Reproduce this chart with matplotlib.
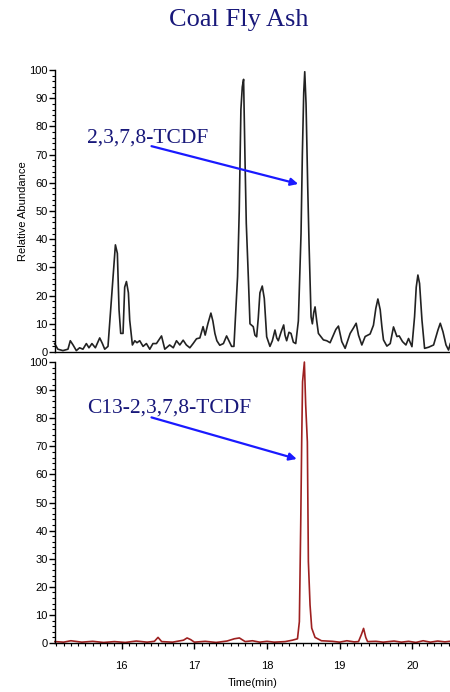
import numpy as np
import matplotlib.pyplot as plt
from matplotlib.ticker import MultipleLocator

# top trace (native 2,3,7,8-TCDF channel): time (min), relative abundance
t_top = [15.076, 15.121, 15.19, 15.26, 15.292, 15.33, 15.375, 15.42, 15.466, 15.513,
         15.549, 15.59, 15.637, 15.697, 15.734, 15.766, 15.811, 15.848, 15.88, 15.913,
         15.94, 15.963, 15.986, 16.018, 16.041, 16.065, 16.092, 16.11, 16.147, 16.18,
         16.21, 16.248, 16.294, 16.34, 16.386, 16.43, 16.478, 16.548, 16.593, 16.66,
         16.71, 16.754, 16.8, 16.846, 16.89, 16.938, 16.983, 17.03, 17.076, 17.12,
         17.149, 17.186, 17.228, 17.255, 17.283, 17.31, 17.35, 17.4, 17.444, 17.476,
         17.513, 17.545, 17.595, 17.618, 17.641, 17.66, 17.678, 17.697, 17.715, 17.743,
         17.766, 17.811, 17.834, 17.858, 17.88, 17.903, 17.935, 17.963, 17.98, 17.996,
         18.041, 18.074, 18.11, 18.134, 18.156, 18.193, 18.23, 18.248, 18.271, 18.303,
         18.331, 18.363, 18.396, 18.432, 18.469, 18.487, 18.506, 18.52, 18.538, 18.561,
         18.579, 18.607, 18.625, 18.644, 18.662, 18.685, 18.708, 18.777, 18.823, 18.869,
         18.915, 18.948, 18.984, 19.03, 19.076, 19.145, 19.19, 19.228, 19.26, 19.306,
         19.352, 19.42, 19.466, 19.499, 19.527, 19.559, 19.582, 19.604, 19.651, 19.697,
         19.742, 19.789, 19.821, 19.866, 19.913, 19.949, 19.996, 20.032, 20.055, 20.078,
         20.101, 20.134, 20.17, 20.225, 20.294, 20.354, 20.386, 20.423, 20.465, 20.5,
         20.524]
i_top = [3, 1, 0.5, 1, 4, 2.5, 0.5, 1.5, 1, 3,
         1.5, 3, 1.5, 5, 3, 1, 2, 15, 26.7, 38,
         35, 15, 6.6, 6.6, 23, 25, 21, 11.3, 2.5, 4,
         3.3, 4, 2, 3, 1, 3, 3, 5.7, 1, 2.5,
         1.5, 4, 2.5, 4.2, 2.5, 1.5, 3, 4.7, 5, 9,
         6, 10, 13.8, 11, 6.6, 4, 2.4, 3, 5.7, 4,
         2, 2, 26.7, 50, 86, 94, 96.7, 69, 45.7, 26.7,
         10, 9, 6, 5.4, 12, 21, 23.4, 19, 12, 5.4,
         2, 4, 7.8, 5, 4, 7, 9.6, 6, 4, 7,
         6.6, 3.5, 3, 11, 42, 70, 92, 99.4, 88, 58.6,
         38.6, 12.5, 10, 14, 16, 11, 6.6, 4.3, 4, 3.3,
         6, 8, 9.2, 3.7, 1.3, 6.6, 8.5, 10.2, 6, 2.5,
         5.5, 6.4, 9.5, 15.5, 18.8, 15, 9, 4.3, 2.1, 3,
         8.9, 5.5, 5.7, 3.7, 2.5, 4.8, 1.9, 12.5, 23, 27.3,
         24.3, 11.3, 1.3, 1.7, 2.5, 7.8, 10.2, 7.2, 2.5, 0.7,
         3]

# bottom trace (C13 labelled standard)
t_bot = [15.08, 15.2, 15.3, 15.45, 15.6, 15.75, 15.9, 16.05, 16.2, 16.35,
         16.45, 16.5, 16.55, 16.7, 16.85, 16.9, 16.95, 17.0, 17.15, 17.3,
         17.45, 17.55, 17.62, 17.7, 17.8, 17.9, 18.0, 18.1, 18.25, 18.35,
         18.42, 18.446, 18.465, 18.478, 18.49, 18.515, 18.533, 18.556, 18.57, 18.593,
         18.616, 18.662, 18.75, 18.9, 19.0, 19.1, 19.2, 19.26, 19.3, 19.33,
         19.36, 19.385, 19.5, 19.6, 19.75, 19.85, 19.95, 20.05, 20.15, 20.25,
         20.35, 20.45, 20.52]
i_bot = [0.5, 0.3, 0.8, 0.3, 0.6, 0.2, 0.5, 0.2, 0.7, 0.3,
         0.6, 2.0, 0.5, 0.3, 1.0, 1.8, 1.2, 0.3, 0.6, 0.2,
         0.7, 1.5, 1.8, 0.5, 0.8, 0.3, 0.6, 0.3, 0.5, 1.0,
         1.5, 7.6, 43, 71.6, 93, 100, 84.7, 71.6, 29, 13.5,
         5.3, 2, 0.8, 0.6, 0.3, 0.8, 0.4, 0.5, 3, 5.2,
         2, 0.5, 0.6, 0.3, 0.7, 0.3, 0.6, 0.2, 0.8, 0.3,
         0.7, 0.4, 0.6]

navy = "#18187a"
arrow_blue = "#1a1aff"

fig = plt.figure(figsize=(4.5, 6.92), dpi=100)
ax1 = fig.add_axes([0.122, 0.4913, 0.878, 0.4075])
ax2 = fig.add_axes([0.122, 0.0708, 0.878, 0.406])

ax1.plot(t_top, i_top, color="#222222", lw=1.2, clip_on=False)
ax2.plot(t_bot, i_bot, color="#9e2020", lw=1.2, clip_on=False)

for ax in (ax1, ax2):
    ax.set_xlim(15.08, 20.52)
    ax.set_ylim(0, 100)
    ax.spines["top"].set_visible(False)
    ax.spines["right"].set_visible(False)
    ax.spines["left"].set_linewidth(1.0)
    ax.spines["bottom"].set_linewidth(1.0)
    ax.yaxis.set_major_locator(MultipleLocator(10))
    ax.yaxis.set_minor_locator(MultipleLocator(2))
    ax.tick_params(axis="y", which="major", length=4, width=1, pad=1, labelsize=8)
    ax.tick_params(axis="y", which="minor", length=2.5, width=0.8)
    for lab in ax.get_yticklabels():
        lab.set_family("Liberation Sans")

ax1.set_xticks([])
ax1.set_ylabel("Relative Abundance", fontsize=8, family="Liberation Sans", labelpad=1)

ax2.xaxis.set_major_locator(MultipleLocator(1))
ax2.xaxis.set_minor_locator(MultipleLocator(0.1))
ax2.tick_params(axis="x", which="major", length=4, width=1, pad=9, labelsize=8)
ax2.tick_params(axis="x", which="minor", length=2.5, width=0.8)
for lab in ax2.get_xticklabels():
    lab.set_family("Liberation Sans")
ax2.set_xlabel("Time(min)", fontsize=8, family="Liberation Sans", labelpad=5)

fig.text(0.531, 0.971, "Coal Fly Ash", ha="center", va="center",
         fontsize=19, family="Liberation Serif", color=navy)

ax1.text(15.52, 76, "2,3,7,8-TCDF", fontsize=15.5, family="Liberation Serif",
         color=navy, va="center", ha="left")
ax1.annotate("", xy=(18.43, 59.6), xytext=(16.41, 73),
             arrowprops=dict(arrowstyle="-|>", color=arrow_blue, lw=1.6,
                             mutation_scale=11, shrinkA=0, shrinkB=0))

ax2.text(15.52, 83.6, "C13-2,3,7,8-TCDF", fontsize=15.5, family="Liberation Serif",
         color=navy, va="center", ha="left")
ax2.annotate("", xy=(18.41, 65.5), xytext=(16.41, 80.3),
             arrowprops=dict(arrowstyle="-|>", color=arrow_blue, lw=1.6,
                             mutation_scale=11, shrinkA=0, shrinkB=0))

fig.savefig("out.png", dpi=100)
